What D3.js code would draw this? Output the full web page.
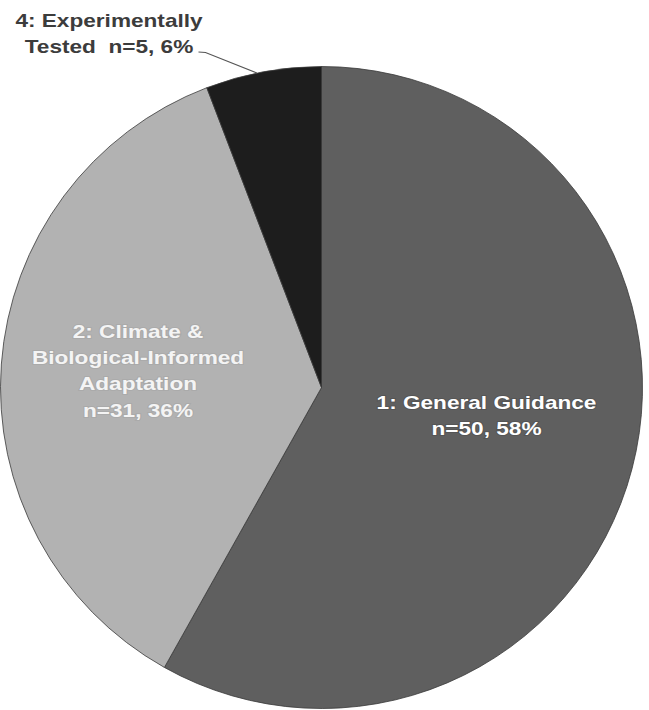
<!DOCTYPE html>
<html>
<head>
<meta charset="utf-8">
<script src="https://cdn.jsdelivr.net/npm/d3@7"></script>
<style>
  html, body { margin: 0; padding: 0; background: #fff; }
  svg { display: block; }
  text { font-family: "Liberation Sans", Arial, sans-serif; font-weight: bold; }
</style>
</head>
<body>
<svg id="chart" width="649" height="710"></svg>
<script>
// Study categories, counts and printed shares
const categories = ["1: General Guidance", "2: Climate & Biological-Informed Adaptation", "4: Experimentally Tested"];
const counts = [50, 31, 5];
const percents = [58, 36, 6];
// Label lines drawn for each slice (the n / share part is appended)
const labelLines = [
  ["1: General Guidance"],
  ["2: Climate &", "Biological-Informed", "Adaptation"],
  ["4: Experimentally", "Tested  "]
];

const width = 649, height = 710;
const cx = 321.5, cy = 387.5, radius = 321;
const fills = ["#5f5f5f", "#b2b2b2", "#1d1d1d"];
const fontSize = 19, stretch = 1.19;

const svg = d3.select("#chart");
const g = svg.append("g").attr("transform", `translate(${cx},${cy})`);

const pie = d3.pie().sort(null).value(d => d.count);
const data = categories.map((c, i) => ({ name: c, count: counts[i], pct: percents[i], lines: labelLines[i] }));
const arcs = pie(data);

const arc = d3.arc().innerRadius(0).outerRadius(radius);

g.selectAll("path.slice")
  .data(arcs)
  .join("path")
  .attr("class", "slice")
  .attr("d", arc)
  .attr("fill", (d, i) => fills[i])
  .attr("stroke", "#3a3a3a")
  .attr("stroke-width", 0.8);

// Multi-line, slightly widened label block centred at (x, y)
function labelBlock(parent, x, y, lines, lh, fill, halo) {
  const t = parent.append("g")
    .attr("transform", `translate(${x},${y}) scale(${stretch},1)`)
    .append("text")
    .attr("text-anchor", "middle")
    .attr("font-size", fontSize)
    .attr("fill", fill)
    .attr("xml:space", "preserve")
    .style("white-space", "pre");
  if (halo) {
    t.attr("stroke", halo).attr("stroke-width", 2).attr("stroke-opacity", 0.45).attr("paint-order", "stroke");
  }
  lines.forEach((ln, k) => {
    t.append("tspan").attr("x", 0).attr("y", k * lh).text(ln);
  });
}

// Inside labels for the two large slices
const insideLayout = [
  { dx: 165, dy: 21, color: "#ffffff", halo: "#4a4a4a", lh: 27 },
  { dx: -183.5, dy: -50, color: "#f4f4f4", halo: "#a0a0a0", lh: 26.5 }
];
[0, 1].forEach(i => {
  const d = arcs[i].data;
  const lay = insideLayout[i];
  labelBlock(g, lay.dx, lay.dy, d.lines.concat([`n=${d.count}, ${d.pct}%`]), lay.lh, lay.color, lay.halo);
});

// Outside label with leader line for the small slice
const small = arcs[2];
const mid = (small.startAngle + small.endAngle) / 2;
const edgePt = [Math.sin(mid - 0.02) * radius, -Math.cos(mid - 0.02) * radius];
g.append("path")
  .attr("d", d3.line()([[-123, -335.5], [-116, -335], edgePt]))
  .attr("fill", "none")
  .attr("stroke", "#555")
  .attr("stroke-width", 1.1);

labelBlock(g, -212.5, -360.5,
  [small.data.lines[0], small.data.lines[1] + `n=${small.data.count}, ${small.data.pct}%`],
  26, "#3c3c3c", null);
</script>
</body>
</html>
